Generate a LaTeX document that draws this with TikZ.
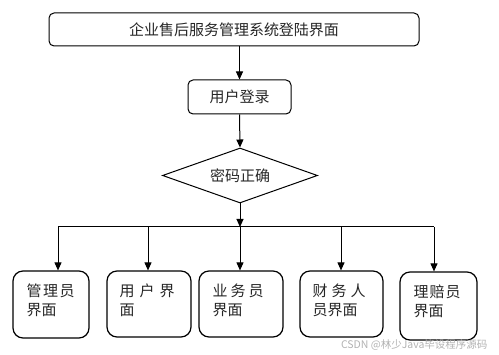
\documentclass[tikz,border=0pt]{standalone}
\usepackage{fontspec}
\newfontfamily\cjk{Noto Sans CJK SC}
\usetikzlibrary{shapes.geometric,arrows.meta,calc}
\begin{document}
\begin{tikzpicture}[x=1pt,y=-1pt,
  every node/.style={font=\cjk\fontsize{15}{19}\selectfont, text=black!85},
  topbox/.style={draw, line width=1pt, rounded corners=5pt, inner sep=0pt},
  subbox/.style={draw, line width=1.2pt, rounded corners=10pt, inner sep=0pt},
  decision/.style={draw, line width=1pt, diamond, aspect=2.8, inner sep=0pt, minimum width=155pt, minimum height=55pt},
  boxtext/.style={anchor=north west, align=left, inner sep=0pt},
  conn/.style={line width=1pt},
  arr/.style={conn, -{Triangle[length=8pt,width=7pt]}},
  wm/.style={font=\cjk\fontsize{10.5}{12}\selectfont, text=black!30}
]
\useasboundingbox (0,0) rectangle (499,355);
\node[topbox, minimum width=370pt, minimum height=33pt] (top) at (234,29.5) {企业售后服务管理系统登陆界面};
\node[topbox, minimum width=103pt, minimum height=34pt] (login) at (239.5,97) {用户登录};
\node[decision] (dia) at (240,175.5) {密码正确};

\node[subbox, minimum width=76pt, minimum height=67pt] (b1) at (51,304.5) {};
\node[subbox, minimum width=84pt, minimum height=66pt] (b2) at (149,304) {};
\node[subbox, minimum width=84pt, minimum height=66pt] (b3) at (241,304) {};
\node[subbox, minimum width=83pt, minimum height=66pt] (b4) at (341.5,304) {};
\node[subbox, minimum width=77pt, minimum height=68pt] (b5) at (438.5,306) {};

\node[boxtext] (t1) at ([xshift=14pt,yshift=-13pt]b1.north west) {管\hspace{1.5pt}理\hspace{1.5pt}员\\界面};
\node[boxtext] (t2) at ([xshift=13pt,yshift=-13pt]b2.north west) {用\hspace{5pt}户\hspace{5pt}界\\面};
\node[boxtext] (t3) at ([xshift=14pt,yshift=-13pt]b3.north west) {业\hspace{3pt}务\hspace{3pt}员\\界面};
\node[boxtext] (t4) at ([xshift=13pt,yshift=-13pt]b4.north west) {财\hspace{4pt}务\hspace{4pt}人\\员界面};
\node[boxtext] (t5) at ([xshift=14pt,yshift=-13pt]b5.north west) {理\hspace{1pt}赔\hspace{1pt}员\\界面};

\draw[arr] (login.north |- top.south) -- (login.north);
\draw[arr] (login.south) -- (dia.north);
\coordinate (j) at (240,227);
\coordinate (c1) at (58,227);
\coordinate (c2) at (148,227);
\coordinate (c3) at (240,227);
\coordinate (c4) at (341,227);
\coordinate (c5) at (434,227);
\draw[arr] (dia.south) -- (j);
\draw[conn] (c1) -- (c5);
\draw[arr] (c1) -- (c1 |- b1.north);
\draw[arr] (c2) -- (c2 |- b2.north);
\draw[arr] (c3) -- (c3 |- b3.north);
\draw[arr] (c4) -- (c4 |- b4.north);
\draw[arr] (c5) -- (c5 |- b5.north);

\node[wm, anchor=east] (mark) at (491,345) {CSDN @林少Java毕设程序源码};
\end{tikzpicture}
\end{document}
